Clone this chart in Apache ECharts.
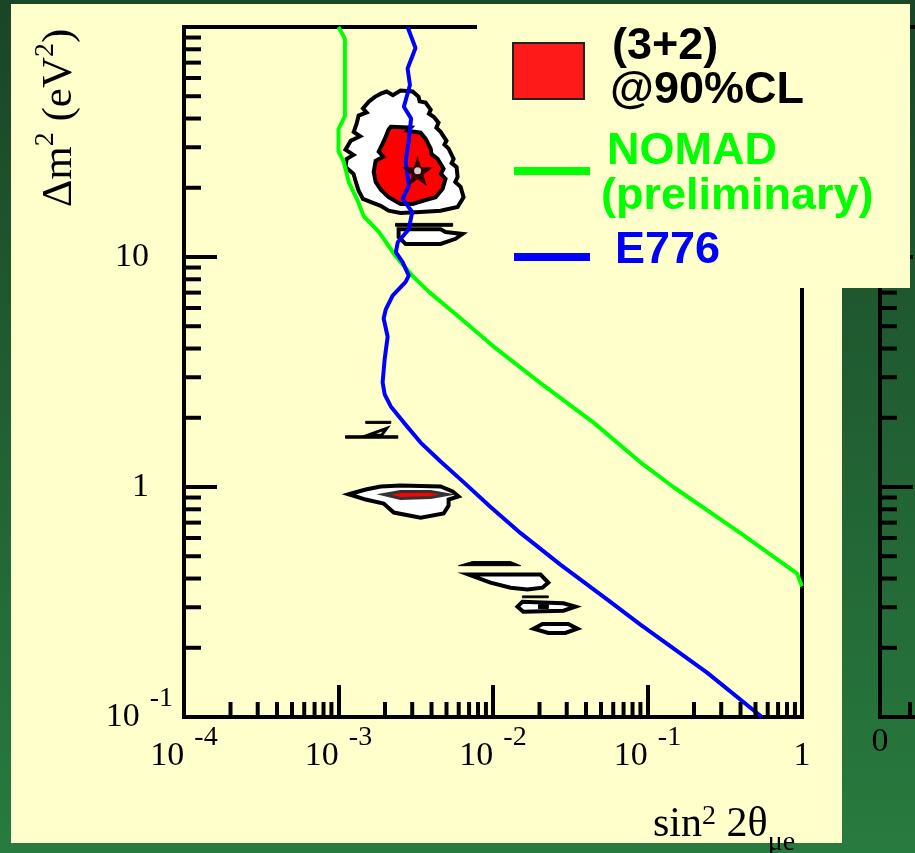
<!DOCTYPE html>
<html>
<head>
<meta charset="utf-8">
<title>(3+2) allowed region vs NOMAD and E776</title>
<script src="https://cdn.jsdelivr.net/npm/echarts@6/dist/echarts.min.js"></script>
<style>
html,body{margin:0;padding:0;background:#1f5a30;}
#chart{width:915px;height:853px;}
</style>
</head>
<body>
<div id="chart"></div>
<script>
// ---- axis ticks ----
var xDecades = [1e-4, 1e-3, 1e-2, 1e-1];
var yDecades = [0.1, 1, 10];
var minorSteps = [2, 3, 4, 5, 6, 7, 8, 9];
var xTickLabels = ['10^-4', '10^-3', '10^-2', '10^-1', '1'];   // 1e-4 .. 1
var yTickLabels = ['10^-1', '1', '10', ''];                   // 0.1 .. 100

// ---- exclusion curves [sin^2 2theta, dm^2] ----
var nomadCurve = [[1.0e-3,100],[1.1e-3,89],[1.1e-3,41],[1.0e-3,36],[1.0e-3,28.7],[1.08e-3,26],[1.17e-3,21],
  [1.31e-3,18],[1.46e-3,15],[1.82e-3,12.9],[2.34e-3,10.1],[3.0e-3,8.3],[3.9e-3,7.0],[6.0e-3,5.5],[1.0e-2,4.1],
  [2.0e-2,2.85],[4.5e-2,1.9],[9.0e-2,1.28],[0.147,1.0],[0.4,0.63],[0.93,0.42],[1.0,0.37]];
var e776Curve = [[2.8e-3,100],[3.15e-3,81],[2.8e-3,66],[2.9e-3,56],[2.65e-3,45],[2.95e-3,40],[2.85e-3,32],
  [2.72e-3,26],[2.8e-3,22.5],[2.85e-3,20.4],[2.6e-3,17.9],[3.0e-3,15.7],[2.85e-3,13.2],[2.42e-3,11.6],[2.35e-3,10.5],
  [2.6e-3,9.5],[2.85e-3,8.3],[2.72e-3,7.8],[2.24e-3,6.8],[2.02e-3,5.9],[1.96e-3,5.4],[2.08e-3,4.5],[1.99e-3,3.6],
  [1.93e-3,2.85],[1.99e-3,2.53],[2.18e-3,2.24],[2.64e-3,1.91],[3.40e-3,1.56],[4.58e-3,1.29],[6.45e-3,1.05],
  [9.6e-3,0.82],[1.51e-2,0.63],[2.73e-2,0.46],[5.5e-2,0.324],[9.0e-2,0.252],[0.243,0.156],[0.55,0.1]];
var bestFit = [[3.25e-3, 23.7]];

// ---- (3+2) allowed regions ----
var outerBlob = [[2.05e-3,52.4],[2.25e-3,50.5],[2.52e-3,52.9],[3.02e-3,52.4],[3.30e-3,49.7],[3.35e-3,47.5],
  [3.66e-3,46.9],[3.95e-3,43.7],[3.85e-3,42.0],[4.13e-3,40.7],[4.44e-3,38.4],[4.3e-3,36.5],[4.58e-3,35.0],
  [5.0e-3,32.0],[4.85e-3,30.8],[5.16e-3,29.6],[5.56e-3,26.7],[5.4e-3,25.6],[5.81e-3,24.6],[5.9e-3,22.3],
  [5.7e-3,21.2],[6.17e-3,20.2],[6.45e-3,18.2],[5.9e-3,16.5],[4.58e-3,15.9],[3.40e-3,15.7],[2.52e-3,15.55],
  [2.11e-3,15.9],[1.875e-3,16.7],[1.67e-3,17.2],[1.44e-3,17.9],[1.35e-3,19.4],[1.29e-3,21.4],[1.25e-3,23.0],
  [1.11e-3,24.6],[1.13e-3,26.7],[1.25e-3,27.8],[1.11e-3,29.3],[1.20e-3,32.0],[1.38e-3,33.5],[1.255e-3,35.0],
  [1.31e-3,38.0],[1.35e-3,41.2],[1.52e-3,42.5],[1.44e-3,44.2],[1.57e-3,47.3],[1.72e-3,49.7],[1.88e-3,51.3]];
var innerBlob = [[2.18e-3,36.8],[2.93e-3,36.5],[2.8e-3,35.4],[3.40e-3,34.7],[3.66e-3,32.7],[3.95e-3,29.6],
  [4.0e-3,28.0],[4.38e-3,26.7],[4.79e-3,24.2],[4.6e-3,23.0],[4.93e-3,21.9],[4.72e-3,19.8],[4.25e-3,18.2],
  [3.66e-3,17.7],[3.02e-3,17.0],[2.52e-3,17.0],[2.11e-3,18.2],[1.88e-3,19.6],[1.74e-3,21.2],[1.69e-3,23.5],
  [1.74e-3,26.2],[1.95e-3,27.3],[1.82e-3,28.7],[1.93e-3,31.1],[2.02e-3,33.3],[2.11e-3,35.8]];
var band13 = [[2.45e-3,13.2],[4.58e-3,13.2],[4.93e-3,12.85],[6.35e-3,12.6],[5.72e-3,12.0],[4.58e-3,11.4],
  [2.72e-3,11.4],[2.45e-3,12.2]];
var blob09 = [[1.165e-3,0.93],[1.50e-3,0.975],[1.875e-3,1.005],[2.52e-3,1.015],[4.58e-3,1.005],[5.48e-3,0.956],
  [5.98e-3,0.91],[5.16e-3,0.882],[5.16e-3,0.83],[4.79e-3,0.767],[3.40e-3,0.736],[2.28e-3,0.774],[1.96e-3,0.847],
  [1.50e-3,0.882]];
var red09 = [[1.96e-3,0.928],[2.52e-3,0.956],[3.95e-3,0.956],[5.08e-3,0.928],[3.95e-3,0.9],[2.52e-3,0.891]];
var tri17 = [[1.55e-3,1.68],[2.05e-3,1.80],[1.90e-3,1.68]];
var shape042 = [[6.95e-3,0.416],[2.03e-2,0.416],[2.28e-2,0.384],[2.09e-2,0.365],[1.67e-2,0.358],[1.30e-2,0.365],
  [9.63e-3,0.384]];
var shape030 = [[1.44e-2,0.302],[1.55e-2,0.317],[2.86e-2,0.312],[3.41e-2,0.302],[2.86e-2,0.29],[1.57e-2,0.287]];
var shape024 = [[1.83e-2,0.242],[2.09e-2,0.254],[3.07e-2,0.254],[3.52e-2,0.242],[2.94e-2,0.232],[2.28e-2,0.232]];
var bar14 = [[2.34e-3,14.0],[5.48e-3,14.0],[5.48e-3,13.6],[2.34e-3,13.6]];
var bar19 = [[1.50e-3,1.93],[2.18e-3,1.93],[2.18e-3,1.89],[1.50e-3,1.89]];
var bar17 = [[1.11e-3,1.67],[2.42e-3,1.67],[2.42e-3,1.63],[1.11e-3,1.63]];
var bar045 = [[5.98e-3,0.455],[7.37e-3,0.474],[1.30e-2,0.474],[1.51e-2,0.455]];
var bar033 = [[1.55e-2,0.336],[2.28e-2,0.336],[2.28e-2,0.330],[1.55e-2,0.330]];
var box030 = [[1.97e-2,0.308],[2.28e-2,0.308],[2.28e-2,0.296],[1.97e-2,0.296]];

var serif = '"Liberation Serif", "DejaVu Serif", serif';
var sans = '"Liberation Sans", Arial, sans-serif';

var myChart = echarts.init(document.getElementById('chart'));

function richLabel(txt, plain) {
	var p = txt.split('^');
	if (p.length == 2) return '{b|' + p[0] + '}{s|' + p[1] + '}';
	return txt ? '{' + plain + '|' + txt + '}' : '';
}
var labelRich = {
	b: {fontFamily: serif, fontSize: 34, lineHeight: 64, color: '#000'},
	bp: {fontFamily: serif, fontSize: 34, lineHeight: 64, color: '#000', padding: [0, 24, 0, 0]},
	s: {fontFamily: serif, fontSize: 28, lineHeight: 18, color: '#000', verticalAlign: 'top', padding: [0, 0, 0, 10]}
};
var zeroRich = {b: {fontFamily: serif, fontSize: 34, lineHeight: 56, color: '#000'}};

// minor ticks (2..9 per decade)
var xMinor = [], yMinor = [], yMinor2 = [];
xDecades.forEach(function (d) { minorSteps.forEach(function (k) { xMinor.push([k * d, 0.1]); }); });
yDecades.forEach(function (d) { minorSteps.forEach(function (k) { yMinor.push([1e-4, k * d]); yMinor2.push([0, k * d]); }); });

function tickSeries(xi, yi, pts, dx, dy) {
	return {
		type: 'custom', xAxisIndex: xi, yAxisIndex: yi, data: pts, silent: true, z: 6,
		renderItem: function (params, api) {
			var p = api.coord([api.value(0), api.value(1)]);
			return {type: 'line', shape: {x1: p[0], y1: p[1], x2: p[0] + dx, y2: p[1] + dy},
				style: {stroke: '#000', lineWidth: 4}};
		}
	};
}

// one polygon drawn through the axes
function region(pts, fill, stroke, lw, z) {
	return {
		type: 'custom', xAxisIndex: 0, yAxisIndex: 0, data: pts, silent: true, z: z,
		renderItem: function (params, api) {
			if (params.context.done) return;
			params.context.done = true;
			return {type: 'polygon',
				shape: {points: pts.map(function (p) { return api.coord(p); })},
				style: {fill: fill, stroke: stroke, lineWidth: lw, lineJoin: 'miter'}};
		}
	};
}

var starPath = 'path://M50,0 L61,35 L98,35 L68,57 L79,91 L50,70 L21,91 L32,57 L2,35 L39,35 Z';

var option = {
	animation: false,
	grid: [
		{left: 184, top: 27, width: 618, height: 690, show: true, borderColor: '#000', borderWidth: 4,
			backgroundColor: 'transparent', outerBoundsMode: 'none'},
		{left: 880, top: 27, width: 60, height: 690, show: true, borderColor: '#000', borderWidth: 4,
			backgroundColor: 'transparent', outerBoundsMode: 'none'}
	],
	xAxis: [
		{
			type: 'log', logBase: 10, gridIndex: 0, min: 1e-4, max: 1,
			axisLine: {show: true, lineStyle: {color: '#000', width: 4}},
			axisTick: {show: true, inside: true, length: 32, lineStyle: {color: '#000', width: 4}},
			splitLine: {show: false}, minorTick: {show: false},
			axisLabel: {
				margin: 7, showMinLabel: true, showMaxLabel: true, hideOverlap: false,
				formatter: function (v) {
					var i = Math.round(Math.log10(v)) + 4;
					return xTickLabels[i] ? richLabel(xTickLabels[i], 'b') : '';
				},
				rich: labelRich
			}
		},
		{
			type: 'value', gridIndex: 1, min: 0, max: 2, interval: 1,
			axisLine: {show: true, lineStyle: {color: '#000', width: 4}},
			axisTick: {show: true, inside: true, length: 15, lineStyle: {color: '#000', width: 4}},
			splitLine: {show: false},
			axisLabel: {margin: -3, formatter: function (v) { return v === 0 ? '{b|0}' : ''; }, rich: zeroRich}
		}
	],
	yAxis: [
		{
			type: 'log', logBase: 10, gridIndex: 0, min: 0.1, max: 100,
			axisLine: {show: true, lineStyle: {color: '#000', width: 4}},
			axisTick: {show: true, inside: true, length: 33, lineStyle: {color: '#000', width: 4}},
			splitLine: {show: false}, minorTick: {show: false},
			axisLabel: {
				margin: 11, showMinLabel: true, showMaxLabel: true, hideOverlap: false,
				formatter: function (v) {
					var i = Math.round(Math.log10(v)) + 1;
					return yTickLabels[i] ? richLabel(yTickLabels[i], 'bp') : '';
				},
				rich: labelRich
			}
		},
		{
			type: 'log', logBase: 10, gridIndex: 1, min: 0.1, max: 100,
			axisLine: {show: true, lineStyle: {color: '#000', width: 4}},
			axisTick: {show: true, inside: true, length: 33, lineStyle: {color: '#000', width: 4}},
			splitLine: {show: false}, axisLabel: {show: false}
		}
	],
	series: [
		region(outerBlob, '#ffffff', '#000', 4, 2),
		region(innerBlob, '#ff0000', '#000', 4, 2),
		region(band13, '#ffffff', '#000', 4, 2),
		region(blob09, '#ffffff', '#000', 4, 2),
		region(red09, '#ff0000', '#333', 3, 2),
		region(tri17, '#ffffff', '#000', 3, 2),
		region(shape042, '#ffffff', '#000', 4, 2),
		region(shape030, '#ffffff', '#000', 4, 2),
		region(shape024, '#ffffff', '#000', 4, 2),
		region(bar14, '#000', '#000', 1, 2),
		region(bar19, '#000', '#000', 1, 2),
		region(bar17, '#000', '#000', 1, 2),
		region(bar045, '#000', '#000', 1, 2),
		region(bar033, '#000', '#000', 1, 2),
		region(box030, '#000', '#000', 1, 2),
		{
			name: 'NOMAD', type: 'line', xAxisIndex: 0, yAxisIndex: 0, data: nomadCurve,
			showSymbol: false, symbol: 'none', silent: true, z: 3,
			lineStyle: {color: '#00ff00', width: 4}
		},
		{
			name: 'E776', type: 'line', xAxisIndex: 0, yAxisIndex: 0, data: e776Curve,
			showSymbol: false, symbol: 'none', silent: true, z: 3,
			lineStyle: {color: '#0000ff', width: 4}
		},
		{
			type: 'scatter', xAxisIndex: 0, yAxisIndex: 0, data: bestFit, symbol: starPath, symbolSize: 31,
			itemStyle: {color: '#000'}, silent: true, z: 4
		},
		{
			type: 'scatter', xAxisIndex: 0, yAxisIndex: 0, data: bestFit, symbol: 'circle', symbolSize: 7,
			itemStyle: {color: '#fff'}, silent: true, z: 5
		},
		tickSeries(0, 0, xMinor, 0, -15),
		tickSeries(0, 0, yMinor, 17, 0),
		tickSeries(1, 1, yMinor2, 17, 0)
	],
	graphic: [
		// page background and panels
		{type: 'rect', z: -100, shape: {x: 0, y: 0, width: 915, height: 853},
			style: {fill: new echarts.graphic.LinearGradient(0, 0, 0, 1, [
				{offset: 0, color: '#1a4526'}, {offset: 1, color: '#287b3f'}])}},
		{type: 'rect', z: -90, shape: {x: 11, y: 4, width: 831, height: 839}, style: {fill: '#ffffcc'}},
		{type: 'rect', z: 100, shape: {x: 477, y: 4, width: 433, height: 284}, style: {fill: '#ffffcc'}},
		// legend
		{type: 'rect', z: 101, shape: {x: 513, y: 43, width: 71, height: 56},
			style: {fill: '#ff1a1a', stroke: '#222', lineWidth: 2}},
		{type: 'line', z: 101, shape: {x1: 514, y1: 171, x2: 590, y2: 171}, style: {stroke: '#00ff00', lineWidth: 8}},
		{type: 'line', z: 101, shape: {x1: 514, y1: 257, x2: 590, y2: 257}, style: {stroke: '#0000ff', lineWidth: 8}},
		{type: 'text', z: 101, x: 612, y: 47, style: {text: '(3+2)', fill: '#000', fontSize: 45, fontWeight: 'bold',
			fontFamily: sans, align: 'left', verticalAlign: 'middle', textAlign: 'left', textVerticalAlign: 'middle'}},
		{type: 'text', z: 101, x: 610, y: 91, style: {text: '@90%CL', fill: '#000', fontSize: 45, fontWeight: 'bold',
			fontFamily: sans, align: 'left', verticalAlign: 'middle', textAlign: 'left', textVerticalAlign: 'middle'}},
		{type: 'text', z: 101, x: 607, y: 152, style: {text: 'NOMAD', fill: '#00ff00', fontSize: 45, fontWeight: 'bold',
			fontFamily: sans, align: 'left', verticalAlign: 'middle', textAlign: 'left', textVerticalAlign: 'middle'}},
		{type: 'text', z: 101, x: 601, y: 197, style: {text: '(preliminary)', fill: '#00ff00', fontSize: 45, fontWeight: 'bold',
			fontFamily: sans, align: 'left', verticalAlign: 'middle', textAlign: 'left', textVerticalAlign: 'middle'}},
		{type: 'text', z: 101, x: 615, y: 251, style: {text: 'E776', fill: '#0000ff', fontSize: 45, fontWeight: 'bold',
			fontFamily: sans, align: 'left', verticalAlign: 'middle', textAlign: 'left', textVerticalAlign: 'middle'}},
		// axis names
		{type: 'text', z: 10, x: 60, y: 118, rotation: Math.PI / 2,
			style: {text: 'Δm{s|2} (eV{s|2})', fill: '#000', fontSize: 43, fontFamily: serif, lineHeight: 56,
				align: 'center', verticalAlign: 'middle', textAlign: 'center', textVerticalAlign: 'middle',
				rich: {s: {fontSize: 28, fontFamily: serif, lineHeight: 26, verticalAlign: 'top', fill: '#000'}}}},
		{type: 'text', z: 10, x: 653, y: 825,
			style: {text: 'sin{s|2} 2θ{u|μe}', fill: '#000', fontSize: 42, fontFamily: serif, lineHeight: 64,
				align: 'left', verticalAlign: 'middle', textAlign: 'left', textVerticalAlign: 'middle',
				rich: {
					s: {fontSize: 28, fontFamily: serif, verticalAlign: 'top', fill: '#000', padding: [10, 0, 0, 0]},
					u: {fontSize: 28, fontFamily: serif, verticalAlign: 'bottom', fill: '#000'}
				}}}
	]
};
myChart.setOption(option);
</script>
</body>
</html>
